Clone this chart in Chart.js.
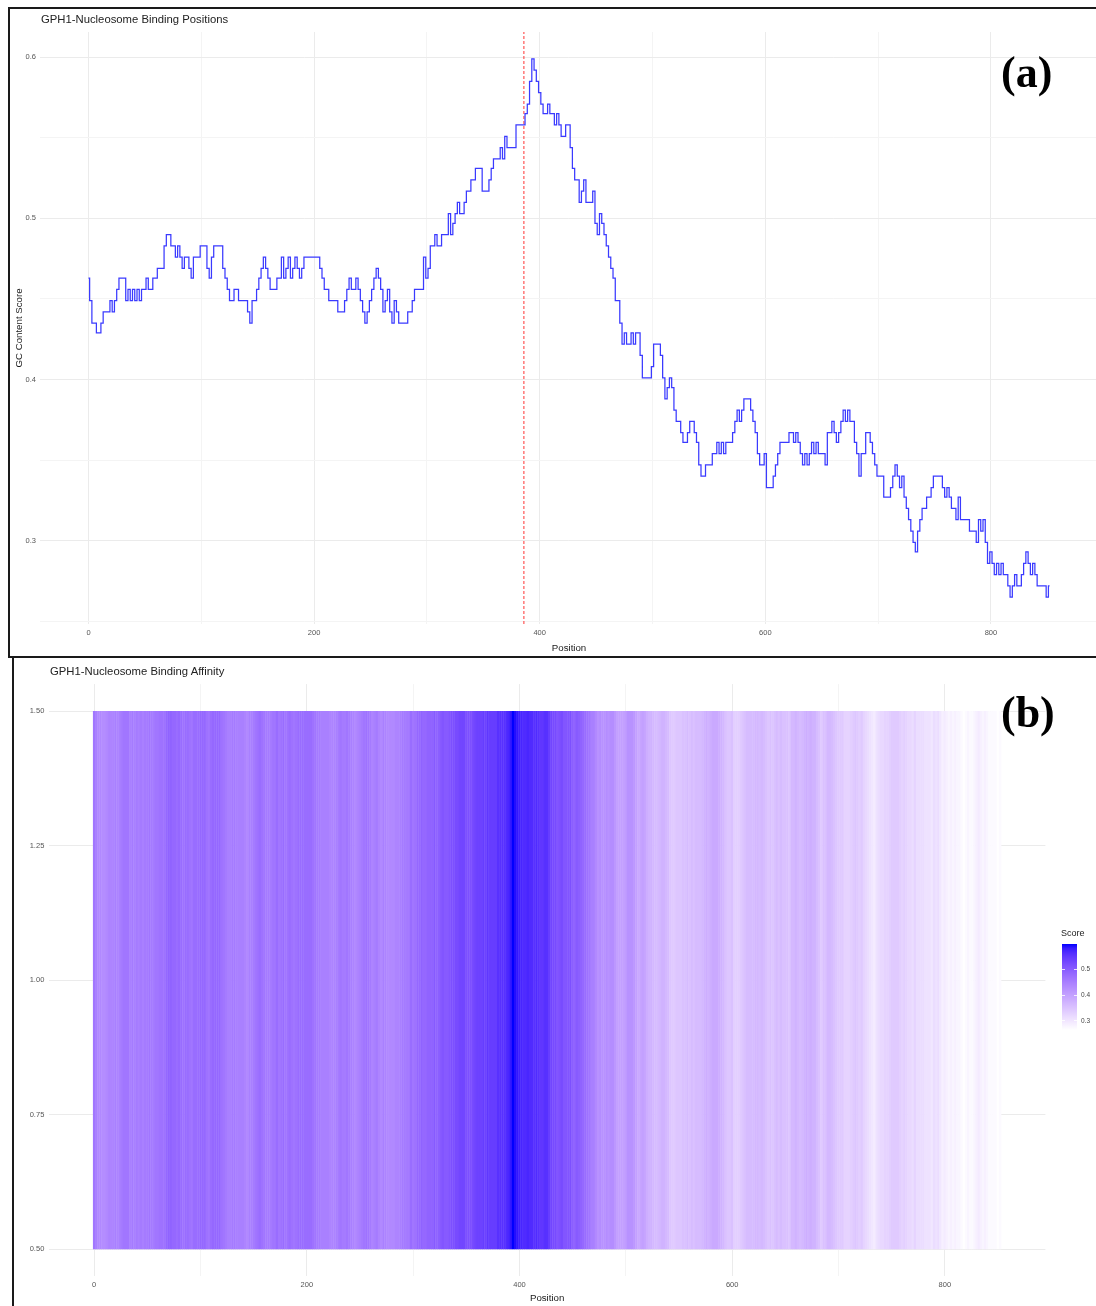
<!DOCTYPE html>
<html><head><meta charset="utf-8">
<script src="https://cdn.jsdelivr.net/npm/chart.js@4.4.0/dist/chart.umd.min.js"></script>
<style>
html,body{margin:0;padding:0;background:#fff;overflow:hidden;}
body{width:1096px;height:1306px;position:relative;font-family:'Liberation Sans',Arial,sans-serif;}
.abs{position:absolute;}
#frameA{left:8px;top:7px;width:1100px;height:647px;border-left:2px solid #1a1a1a;border-top:2px solid #1a1a1a;border-bottom:2px solid #1a1a1a;}
#frameB{left:12px;top:658px;width:1100px;height:660px;border-left:2px solid #1a1a1a;}
.ttl{font-size:11.3px;color:#222;white-space:nowrap;line-height:13px;}
.tag{font-family:'Liberation Serif','Times New Roman',serif;font-weight:bold;font-size:44px;line-height:1;color:#000;white-space:nowrap;}
.lg{font-size:6.5px;color:#444;line-height:8px;white-space:nowrap;}
</style></head>
<body>
<div id="frameA" class="abs"></div>
<div id="frameB" class="abs"></div>
<canvas id="cA" class="abs" style="left:10px;top:9px;width:1092px;height:647px" width="1092" height="647"></canvas>
<canvas id="cB" class="abs" style="left:14px;top:660px;width:1082px;height:646px" width="1082" height="646"></canvas>
<div class="abs ttl" style="left:41px;top:13px">GPH1-Nucleosome Binding Positions</div>
<div class="abs ttl" style="left:50px;top:665px">GPH1-Nucleosome Binding Affinity</div>
<div class="abs tag" style="left:1001px;top:51px">(a)</div>
<div class="abs tag" style="left:1001px;top:691px">(b)</div>
<div id="legend"></div>
<script>
// ---- data ----
const positionStart = 0;
const positionStep = 2;
const gcScores = [
.463,.449,.435,.435,.429,.429,.435,.442,.442,.442,
.449,.442,.449,.456,.463,.463,.463,.449,.456,.449,
.456,.449,.456,.449,.456,.456,.463,.456,.456,.463,
.463,.469,.469,.469,.483,.490,.490,.483,.483,.476,
.483,.476,.469,.476,.476,.469,.463,.476,.476,.476,
.483,.483,.483,.469,.463,.476,.483,.483,.483,.483,
.469,.463,.456,.449,.449,.456,.456,.449,.449,.449,
.449,.442,.435,.449,.449,.456,.463,.469,.476,.469,
.463,.456,.456,.456,.463,.463,.476,.463,.469,.476,
.463,.469,.476,.469,.463,.469,.476,.476,.476,.476,
.476,.476,.476,.469,.463,.456,.456,.449,.449,.449,
.449,.442,.442,.442,.449,.456,.463,.456,.456,.463,
.456,.449,.442,.435,.442,.449,.456,.463,.469,.463,
.456,.442,.449,.456,.442,.435,.449,.442,.435,.435,
.435,.435,.442,.442,.449,.456,.456,.456,.456,.476,
.463,.469,.483,.483,.490,.483,.483,.490,.490,.490,
.503,.490,.497,.503,.510,.503,.503,.510,.517,.517,
.524,.524,.531,.531,.531,.517,.517,.517,.524,.531,
.537,.537,.537,.544,.537,.551,.544,.544,.544,.544,
.558,.558,.558,.558,.565,.571,.585,.599,.592,.585,
.578,.571,.565,.565,.571,.565,.565,.558,.565,.558,
.551,.551,.558,.558,.544,.531,.524,.524,.510,.517,
.524,.510,.510,.510,.517,.497,.490,.503,.497,.490,
.483,.476,.469,.463,.449,.449,.435,.422,.429,.422,
.422,.429,.422,.429,.429,.415,.401,.401,.401,.401,
.408,.422,.422,.422,.415,.401,.388,.395,.401,.395,
.381,.374,.374,.367,.361,.361,.367,.374,.374,.367,
.361,.347,.340,.340,.347,.347,.347,.354,.354,.361,
.354,.361,.354,.361,.361,.361,.367,.374,.381,.374,
.381,.388,.388,.388,.381,.374,.367,.354,.347,.347,
.354,.333,.333,.333,.340,.347,.354,.361,.361,.361,
.361,.367,.367,.361,.367,.361,.354,.347,.354,.347,
.354,.361,.354,.361,.354,.354,.354,.347,.367,.367,
.374,.367,.361,.367,.374,.381,.374,.381,.374,.374,
.361,.354,.340,.354,.354,.367,.367,.361,.354,.347,
.340,.340,.340,.327,.327,.327,.333,.340,.347,.340,
.333,.340,.327,.320,.313,.306,.299,.293,.306,.313,
.320,.320,.327,.327,.333,.340,.340,.340,.340,.333,
.327,.333,.327,.320,.320,.313,.327,.313,.313,.313,
.313,.306,.306,.306,.299,.313,.306,.313,.299,.286,
.293,.286,.279,.286,.279,.286,.279,.279,.272,.265,
.272,.279,.272,.272,.279,.286,.293,.286,.279,.286,
.279,.272,.272,.272,.272,.265,.272
];
const markerPosition = 386;
const xTickStep = 100, xLabelStep = 200;
const yTickStepA = 0.05, yLabelStepA = 0.1;
const yTickStepB = 0.25;
const tileBottom = 0.5, tileTop = 1.5;
const legendBreaks = [0.3, 0.4, 0.5];

const positions = gcScores.map((_, i) => positionStart + i * positionStep);

// ---- derived limits (ggplot-like 5% expansion) ----
const xMinD = Math.min(...positions), xMaxD = Math.max(...positions);
const xPad = (xMaxD - xMinD) * 0.05;
const sMin = Math.min(...gcScores), sMax = Math.max(...gcScores);
const sPad = (sMax - sMin) * 0.05;
const yPadB = (tileTop - tileBottom) * 0.05;

// ---- white -> blue gradient in CIELAB ----
const LAB_LOW = [100, 0, 0], LAB_HIGH = [32.3026, 79.1967, -107.8637];
function lab2rgb(L, a, b) {
  const fy = (L + 16) / 116, fx = fy + a / 500, fz = fy - b / 200;
  const finv = t => (t * t * t > 0.008856 ? t * t * t : (t - 16 / 116) / 7.787);
  const X = 0.95047 * finv(fx), Y = finv(fy), Z = 1.08883 * finv(fz);
  let r = 3.2404542 * X - 1.5371385 * Y - 0.4985314 * Z;
  let g = -0.9692660 * X + 1.8760108 * Y + 0.0415560 * Z;
  let bb = 0.0556434 * X - 0.2040259 * Y + 1.0572252 * Z;
  const gam = c => { c = Math.min(1, Math.max(0, c)); return c <= 0.0031308 ? 12.92 * c : 1.055 * Math.pow(c, 1 / 2.4) - 0.055; };
  return [r, g, bb].map(c => Math.round(gam(c) * 255));
}
function scoreColor(v) {
  const t = Math.min(1, Math.max(0, (v - sMin) / (sMax - sMin)));
  const L = LAB_LOW[0] + (LAB_HIGH[0] - LAB_LOW[0]) * t;
  const a = LAB_LOW[1] + (LAB_HIGH[1] - LAB_LOW[1]) * t;
  const b = LAB_LOW[2] + (LAB_HIGH[2] - LAB_LOW[2]) * t;
  const [r, g, bl] = lab2rgb(L, a, b);
  return `rgb(${r},${g},${bl})`;
}
const isMult = (v, s) => Math.abs(v / s - Math.round(v / s)) < 1e-6;

Chart.defaults.font.family = "'Liberation Sans', Arial, sans-serif";
const TICK_COLOR = '#555';
const MAJOR = '#ebebeb', MINOR = '#f4f4f4';

// ---- panel (a): line chart ----
new Chart(document.getElementById('cA'), {
  type: 'line',
  data: {
    datasets: [
      { data: positions.map((p, i) => ({ x: p, y: gcScores[i] })), borderColor: '#3a3aff', borderWidth: 1.25,
        pointRadius: 0, tension: 0, stepped: 'middle', fill: false },
      { data: [{ x: markerPosition, y: sMin - sPad }, { x: markerPosition, y: sMax + sPad }],
        borderColor: '#ff3333', borderWidth: 1, borderDash: [3, 2], pointRadius: 0, fill: false }
    ]
  },
  options: {
    responsive: false, animation: false, devicePixelRatio: 1,
    layout: { padding: { top: 23, right: 4.4, left: 0, bottom: 0 } },
    plugins: { legend: { display: false }, tooltip: { enabled: false }, title: { display: false } },
    scales: {
      x: {
        type: 'linear', min: xMinD - xPad, max: xMaxD + xPad,
        afterFit: s => { s.height = 32; },
        border: { display: false },
        grid: { drawTicks: false, lineWidth: 1, color: c => isMult(c.tick.value, xLabelStep) ? MAJOR : MINOR },
        ticks: { stepSize: xTickStep, autoSkip: false, maxRotation: 0, includeBounds: false, padding: 4.5,
          color: TICK_COLOR, font: { size: 7.5 },
          callback: v => isMult(v, xLabelStep) ? String(Math.round(v)) : '' },
        title: { display: true, text: 'Position', color: '#1a1a1a', font: { size: 9.7 }, padding: { top: 0, bottom: 1.9 } }
      },
      y: {
        type: 'linear', min: sMin - sPad, max: sMax + sPad,
        afterFit: s => { s.width = 30.45; },
        border: { display: false },
        grid: { drawTicks: false, lineWidth: 1, color: c => isMult(c.tick.value, yLabelStepA) ? MAJOR : MINOR },
        ticks: { stepSize: yTickStepA, autoSkip: false, includeBounds: false, padding: 4.5,
          color: TICK_COLOR, font: { size: 7.5 },
          callback: v => isMult(v, yLabelStepA) ? v.toFixed(1) : '' },
        title: { display: true, text: 'GC Content Score', color: '#1a1a1a', font: { size: 9.7 }, padding: { top: 3.4, bottom: 0 } }
      }
    }
  }
});

// ---- panel (b): heat strip ----
new Chart(document.getElementById('cB'), {
  type: 'bar',
  data: {
    datasets: [{
      data: positions.map(p => ({ x: p, y: [tileBottom, tileTop] })),
      backgroundColor: gcScores.map(scoreColor),
      borderWidth: 0, barPercentage: 1.2, categoryPercentage: 1.0
    }]
  },
  options: {
    responsive: false, animation: false, devicePixelRatio: 1,
    layout: { padding: { top: 24.1, right: 50.6, left: 0, bottom: 0 } },
    plugins: { legend: { display: false }, tooltip: { enabled: false } },
    scales: {
      x: {
        type: 'linear', offset: false, min: xMinD - xPad, max: xMaxD + xPad,
        afterFit: s => { s.height = 29.8; },
        border: { display: false },
        grid: { offset: false, drawTicks: false, lineWidth: 1, color: c => isMult(c.tick.value, xLabelStep) ? MAJOR : MINOR },
        ticks: { stepSize: xTickStep, autoSkip: false, maxRotation: 0, includeBounds: false, padding: 4.5,
          color: TICK_COLOR, font: { size: 7.5 },
          callback: v => isMult(v, xLabelStep) ? String(Math.round(v)) : '' },
        title: { display: true, text: 'Position', color: '#1a1a1a', font: { size: 9.7 }, padding: { top: 0, bottom: 2.2 } }
      },
      y: {
        type: 'linear', min: tileBottom - yPadB, max: tileTop + yPadB, beginAtZero: false,
        afterFit: s => { s.width = 34.9; },
        border: { display: false },
        grid: { drawTicks: false, lineWidth: 1, color: MAJOR },
        ticks: { stepSize: yTickStepB, autoSkip: false, includeBounds: false, padding: 4.6,
          color: TICK_COLOR, font: { size: 7.5 }, callback: v => v.toFixed(2) }
      }
    }
  }
});

// ---- colour bar legend ----
(function () {
  const lg = document.getElementById('legend');
  const barLeft = 1062, barTop = 944, barW = 15, barH = 86;
  const stops = [];
  for (let i = 0; i <= 20; i++) {
    const v = sMax - (sMax - sMin) * i / 20;
    stops.push(scoreColor(v) + ' ' + (i * 5) + '%');
  }
  let html = `<div class="abs" style="left:1061px;top:928px;font-size:9px;line-height:11px;color:#222">Score</div>`;
  html += `<div class="abs" style="left:${barLeft}px;top:${barTop}px;width:${barW}px;height:${barH}px;background:linear-gradient(to bottom, ${stops.join(',')})"></div>`;
  legendBreaks.forEach(b => {
    const y = barTop + (sMax - b) / (sMax - sMin) * barH;
    html += `<div class="abs" style="left:${barLeft}px;top:${y - 0.5}px;width:3px;height:1px;background:rgba(255,255,255,0.8)"></div>`;
    html += `<div class="abs" style="left:${barLeft + barW - 3}px;top:${y - 0.5}px;width:3px;height:1px;background:rgba(255,255,255,0.8)"></div>`;
    html += `<div class="abs lg" style="left:${barLeft + barW + 4}px;top:${y - 4}px">${b.toFixed(1)}</div>`;
  });
  lg.innerHTML = html;
})();
</script>
</body></html>
